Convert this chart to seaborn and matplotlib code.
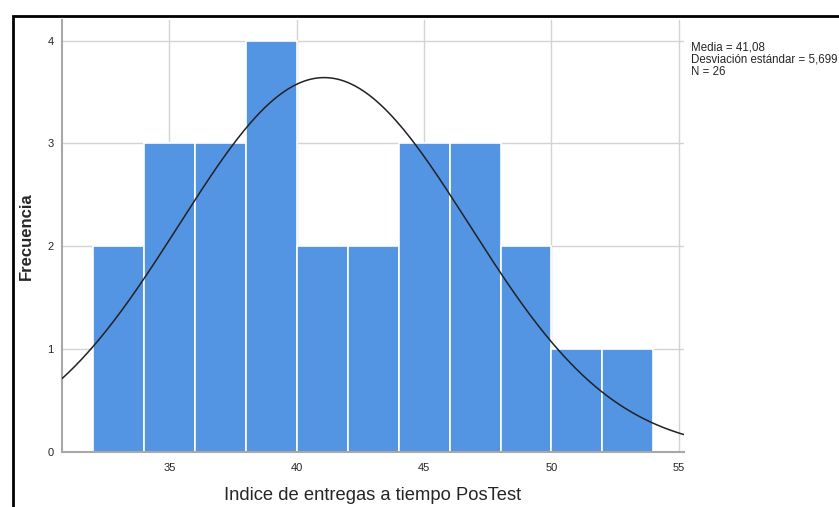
import numpy as np
import pandas as pd
import seaborn as sns
import matplotlib
matplotlib.use("Agg")
import matplotlib.pyplot as plt
from matplotlib.patches import Rectangle

# Data
bin_edges = [32, 34, 36, 38, 40, 42, 44, 46, 48, 50, 52, 54]
counts = [2, 3, 3, 4, 2, 2, 3, 3, 2, 1, 1]
mean_val = 41.08
sd_val = 5.699
n_val = 26
x_ticks = [35, 40, 45, 50, 55]
y_ticks = [0, 1, 2, 3, 4]
x_label = "Indice de entregas a tiempo PosTest"
y_label = "Frecuencia"

sns.set_style("white")
plt.rcParams['font.family'] = ['Liberation Sans', 'DejaVu Sans']

W, H = 839, 507
fig = plt.figure(figsize=(W / 100, H / 100), dpi=100)
ax = fig.add_axes([62 / W, 1 - 452 / H, (684 - 62) / W, (452 - 20) / H])

centers = [(a + b) / 2 for a, b in zip(bin_edges[:-1], bin_edges[1:])]
df = pd.DataFrame({"x": centers, "w": counts})
sns.histplot(data=df, x="x", weights="w", bins=bin_edges, ax=ax,
             color="#5394E3", alpha=1, edgecolor="#ffffff", linewidth=1.2,
             zorder=2)

xmin, xmax = 30.79, 55.2
xs = np.linspace(xmin, xmax, 400)
binw = bin_edges[1] - bin_edges[0]
ys = n_val * binw / (sd_val * np.sqrt(2 * np.pi)) * np.exp(-0.5 * ((xs - mean_val) / sd_val) ** 2)
sns.lineplot(x=xs, y=ys, ax=ax, color="#222222", linewidth=1.1, zorder=3)

ax.set_xlim(xmin, xmax)
ax.set_ylim(0, 4.2)
ax.set_xticks(x_ticks)
ax.set_yticks(y_ticks)
ax.set_xticklabels([str(t) for t in x_ticks], fontsize=8)
ax.set_yticklabels([str(t) for t in y_ticks], fontsize=8)
ax.tick_params(axis="both", length=0)
ax.tick_params(axis="x", pad=8)
ax.tick_params(axis="y", pad=6)
ax.grid(True, color="#d4d4d4", linewidth=1.0, zorder=0)
ax.set_axisbelow(True)
for s in ["top", "right"]:
    ax.spines[s].set_visible(False)
for s in ["left", "bottom"]:
    ax.spines[s].set_color("#a8a8a8")
    ax.spines[s].set_linewidth(1.5)

ax.set_xlabel(x_label, fontsize=13.2)
ax.set_ylabel(y_label, fontsize=12, fontweight="bold")
ax.xaxis.set_label_coords((373 - 62) / (684 - 62), -(495 - 452) / (452 - 20))
ax.yaxis.set_label_coords(-(62 - 26) / (684 - 62), (452 - 236) / (452 - 20))
ax.xaxis.label.set_va("center")
ax.yaxis.label.set_va("center")

fig.text(691 / W, 1 - 41 / H,
         f"Media = {mean_val:.2f}".replace(".", ",") + "\n"
         + f"Desviación estándar = {sd_val:.3f}".replace(".", ",") + "\n"
         + f"N = {n_val}",
         fontsize=8.3, va="top", ha="left", linespacing=1.08)

# outer black frame (left and top edges visible)
fig.add_artist(Rectangle((13 / W, -0.1), 1.2, 1 - 16 / H + 0.1,
                         transform=fig.transFigure, fill=False,
                         edgecolor="black", linewidth=2))

fig.savefig("out.png", dpi=100)
